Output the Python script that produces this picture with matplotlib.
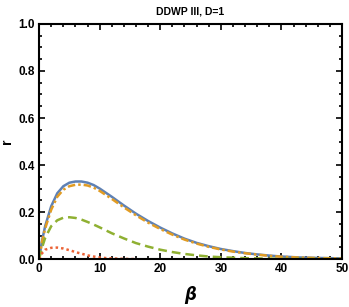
import matplotlib
matplotlib.use("Agg")
import matplotlib.pyplot as plt
from matplotlib.ticker import MultipleLocator

# values
beta_a = [0, 0.5, 1, 2, 3, 4, 5, 6, 7, 8, 9, 10, 12, 14, 16, 18, 20, 22, 24, 26, 28,
          30, 32, 34, 36, 38, 40, 43, 46, 50]
r_blue = [0, 0.08, 0.14, 0.225, 0.28, 0.31, 0.325, 0.33, 0.33, 0.325, 0.315, 0.3,
          0.265, 0.228, 0.193, 0.162, 0.134, 0.109, 0.087, 0.069, 0.055, 0.043, 0.034,
          0.026, 0.02, 0.015, 0.011, 0.007, 0.005, 0.003]
r_orange = [0, 0.075, 0.13, 0.21, 0.265, 0.295, 0.31, 0.316, 0.317, 0.313, 0.304, 0.29,
            0.256, 0.22, 0.186, 0.155, 0.128, 0.104, 0.083, 0.066, 0.052, 0.041, 0.032,
            0.025, 0.019, 0.014, 0.01, 0.0065, 0.0045, 0.0028]
beta_g = [0, 0.5, 1, 2, 3, 4, 5, 6, 7, 8, 9, 10, 12, 14, 16, 18, 20, 22, 24, 26, 28,
          30, 34, 40, 50]
r_green = [0, 0.05, 0.09, 0.14, 0.165, 0.176, 0.178, 0.175, 0.168, 0.158, 0.147, 0.135,
           0.11, 0.088, 0.068, 0.053, 0.04, 0.03, 0.022, 0.016, 0.011, 0.008, 0.004,
           0.001, 0.0]
beta_r = [0, 0.5, 1, 2, 3, 4, 5, 6, 7, 8, 9, 10, 11, 12, 13, 14, 15, 16]
r_red = [0, 0.025, 0.04, 0.048, 0.049, 0.045, 0.038, 0.03, 0.023, 0.016, 0.011, 0.007,
         0.0045, 0.003, 0.002, 0.001, 0.0005, 0.0002]

plt.rcParams['font.family'] = ['Liberation Sans Narrow', 'Liberation Sans', 'DejaVu Sans']
plt.rcParams['font.weight'] = 'bold'

fig = plt.figure(figsize=(3.49, 3.07), dpi=100)
ax = fig.add_axes([0.112, 0.156, 0.868, 0.766])

ax.plot(beta_a, r_blue, color='#5E81B5', lw=1.8, ls='-')
ax.plot(beta_a, r_orange, color='#E19C24', lw=1.8, ls=(0, (3, 1.2, 1, 1.2)))
ax.plot(beta_g, r_green, color='#8FB032', lw=1.8, ls=(0, (3.5, 2)))
ax.plot(beta_r, r_red, color='#EB6235', lw=1.8, ls=(0, (1, 1.2)))

ax.set_xlim(0, 50)
ax.set_ylim(0, 1.0)
ax.xaxis.set_major_locator(MultipleLocator(10))
ax.xaxis.set_minor_locator(MultipleLocator(2))
ax.yaxis.set_major_locator(MultipleLocator(0.2))
ax.yaxis.set_minor_locator(MultipleLocator(0.05))
ax.yaxis.set_major_formatter(plt.FuncFormatter(lambda v, p: f"{v:.1f}"))
ax.tick_params(which='both', direction='in', top=True, right=True, width=1.2,
               labelsize=8.5, pad=3)
ax.tick_params(which='major', length=4)
ax.tick_params(which='minor', length=2)
for s in ax.spines.values():
    s.set_linewidth(1.5)

ax.set_title('DDWP III, D=1', fontsize=7.5, fontweight='bold', pad=7)
ax.set_xlabel('β', fontsize=12, fontweight='bold', style='italic', labelpad=8,
              family=['DejaVu Sans'])
ax.set_ylabel('r', fontsize=10, fontweight='bold', rotation=90)
ax.yaxis.set_label_coords(-0.082, 0.5)

fig.savefig('out.png', dpi=100)
